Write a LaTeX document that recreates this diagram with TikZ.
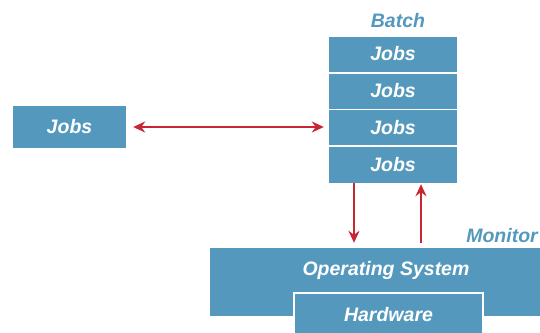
\documentclass[tikz,border=0pt]{standalone}
\usepackage{fontspec}
\setmainfont{Liberation Sans}
\usetikzlibrary{arrows.meta}
\definecolor{boxblue}{RGB}{84,153,189}
\definecolor{linkred}{RGB}{200,38,50}
\tikzset{
  blk/.style={fill=boxblue, text=white, font=\fontsize{19.5}{22}\selectfont\bfseries\itshape, inner sep=0pt},
  ttl/.style={text=boxblue, font=\fontsize{19.5}{22}\selectfont\bfseries\itshape, inner sep=0pt},
  link/.style={draw=linkred, line width=1.6pt, -{Stealth[length=12pt,width=11pt]}},
}
\begin{document}
\begin{tikzpicture}[x=1pt,y=-1pt]
    \useasboundingbox (0,0) rectangle (540,332);

    % left job
    \node[blk, minimum width=113pt, minimum height=42pt] (jobs) at (69.5,127) {Jobs};

    % batch stack
    \node[ttl] (batch) at (398,21) {Batch};
    \node[blk, minimum width=128pt, minimum height=35pt] (b1) at (393,54) {Jobs};
    \node[blk, minimum width=128pt, minimum height=35pt] (b2) at (393,91) {Jobs};
    \node[blk, minimum width=128pt, minimum height=35pt] (b3) at (393,127.5) {Jobs};
    \node[blk, minimum width=128pt, minimum height=36pt] (b4) at (393,165) {Jobs};

    % monitor
    \node[ttl, anchor=east] (monitor) at (538,236) {Monitor};
    \node[blk, minimum width=330pt, minimum height=68pt] (os) at (375,282) {};
    \node[blk, fill=none] (ostxt) at (386,270) {Operating System};
    \node[blk, draw=white, line width=1.5pt, minimum width=189pt, minimum height=44pt] (hw) at (388.5,315) {Hardware};

    \coordinate (dn) at (354,0);
    \coordinate (up) at (421,0);

    \draw[link, {Stealth[length=12pt,width=11pt]}-{Stealth[length=12pt,width=11pt]}, shorten <=7pt, shorten >=5pt] (jobs.east) -- (jobs.east -| b3.west);
    \draw[link, shorten >=5pt] (b4.south -| dn) -- (os.north -| dn);
    \draw[link, shorten >=1pt, shorten <=5pt] (os.north -| up) -- (b4.south -| up);
\end{tikzpicture}
\end{document}
